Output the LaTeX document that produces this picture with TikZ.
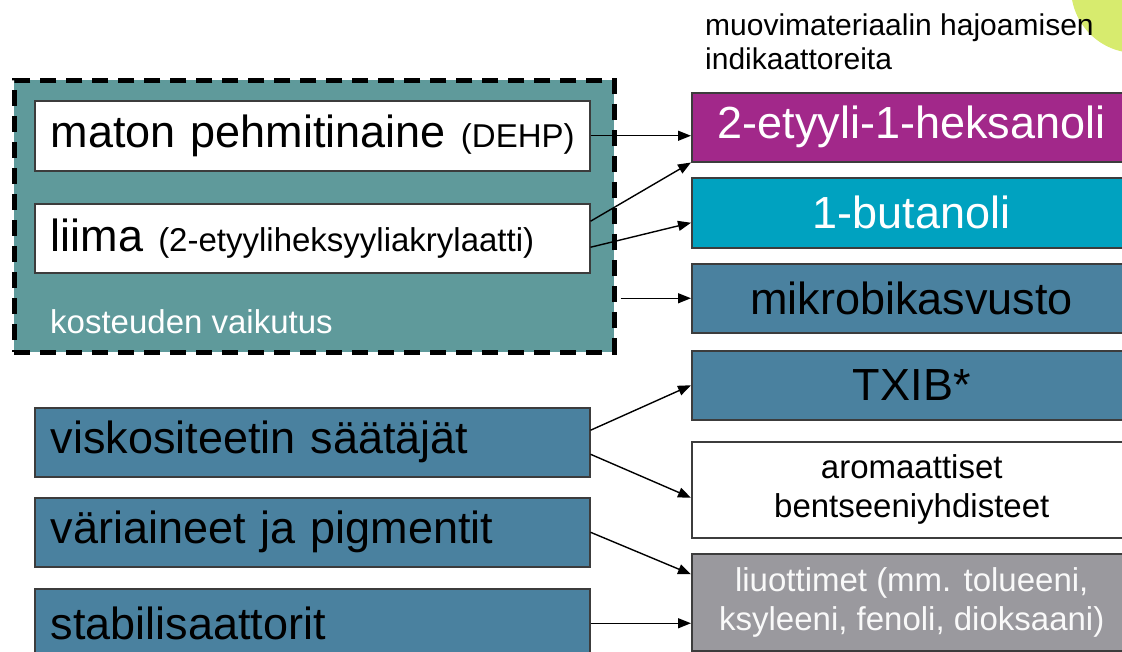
\documentclass[tikz,border=0pt]{standalone}
\usepackage{fontspec}
\setmainfont{Liberation Sans}
\usetikzlibrary{positioning, fit, calc, arrows.meta, backgrounds}
\definecolor{mossteal}{HTML}{5F9A9B}
\definecolor{steelbox}{HTML}{4A819F}
\definecolor{plumbox}{HTML}{A2288A}
\definecolor{cyanbox}{HTML}{00A2C0}
\definecolor{greybox}{HTML}{9A999E}
\definecolor{limeblob}{HTML}{D7EB6E}
\definecolor{edgegray}{HTML}{3C3C3C}
\newcommand{\subnote}[1]{{\fontsize{33}{39}\selectfont #1}}
\tikzset{
	bigtext/.style={font=\fontsize{45}{50}\selectfont},
	smalltext/.style={font=\fontsize{33}{39}\selectfont}
}
\tikzset{
	leftbox/.style={draw=edgegray, line width=1.5pt, anchor=north west, minimum height=69pt,
			text width=535pt, inner xsep=10pt, inner ysep=0pt, align=left, bigtext},
	rightbox/.style={draw=edgegray, line width=1.5pt, anchor=north west, minimum width=440pt,
			inner sep=0pt, align=center}
}
\tikzset{
	moistbox/.style={fill=mossteal, draw=black, line width=4.5pt, dash pattern=on 16pt off 10pt,
			anchor=north west, minimum width=600pt, minimum height=272pt, inner sep=0pt}
}
\tikzset{
	linkarrow/.style={line width=1.4pt, -{Triangle[length=13pt,width=10pt]}}
}

\begin{document}
\begin{tikzpicture}[x=1pt, y=-1pt]

			\path[use as bounding box] (0,0) rectangle (1122,651);
			\clip (0,0) rectangle (1122,651);

			\fill[limeblob] (1136,-12) circle (65pt);

			\node[smalltext, font=\fontsize{30}{34}\selectfont, anchor=north west, inner sep=0pt, align=left] (head) at (705,14)
				{muovimateriaalin hajoamisen\\indikaattoreita};

			\begin{scope}
				\node[moistbox] (moist) at (12,78) {};
				\node[leftbox, fill=white, minimum height=70pt] (dehp) at (34,100) {\hspace*{6pt}maton pehmitinaine \subnote{(DEHP)}};
				\node[leftbox, fill=white] (liima) at (34,203) {\hspace*{6pt}liima \subnote{(2-etyyliheksyyliakrylaatti)}};
				\node[smalltext, text=white, anchor=base west, inner sep=0pt] (moistlabel) at (50,333) {kosteuden vaikutus};
			\end{scope}

			\begin{scope}
				\node[leftbox, fill=steelbox] (visk) at (34,407) {\hspace*{6pt}viskositeetin säätäjät};
				\node[leftbox, fill=steelbox] (vari) at (34,497) {\hspace*{6pt}väriaineet ja pigmentit};
				\node[leftbox, fill=steelbox] (stab) at (34,588) {\hspace*{6pt}stabilisaattorit};
			\end{scope}

			\begin{scope}
				\node[rightbox, bigtext, fill=plumbox, text=white, minimum height=69pt] (heks) at (691,92) {2-etyyli-1-heksanoli};
				\node[rightbox, bigtext, fill=cyanbox, text=white, minimum height=70pt] (buta) at (691,177) {1-butanoli};
				\node[rightbox, bigtext, fill=steelbox, minimum height=69pt] (mikro) at (691,263) {mikrobikasvusto};
				\node[rightbox, bigtext, fill=steelbox, minimum height=69pt] (txib) at (691,350) {TXIB*};
				\node[rightbox, smalltext, fill=white, minimum height=96pt] (arom) at (691,441) {aromaattiset\\bentseeniyhdisteet};
				\node[rightbox, smalltext, fill=greybox, text=white!95!gray, minimum height=97pt] (liuot) at (691,553)
					{liuottimet (mm. tolueeni,\\ksyleeni, fenoli, dioksaani)};
			\end{scope}

			\begin{scope}
				\draw[linkarrow] (dehp.east) -- (dehp.east -| heks.west);
				\draw[linkarrow] ($(liima.east)+(0,-17)$) -- (heks.south west);
				\draw[linkarrow] ($(liima.east)+(0,9)$) -- ($(buta.west)+(0,10)$);
				\draw[linkarrow, shorten <=4pt] (moist.east |- mikro.west) -- (mikro.west);
				\draw[linkarrow] ($(visk.east)+(0,-12)$) -- (txib.west);
				\draw[linkarrow] ($(visk.east)+(0,12)$) -- ($(arom.west)+(0,8)$);
				\draw[linkarrow] (vari.east) -- ($(liuot.west)+(0,-28)$);
				\draw[linkarrow] (stab.east) -- (stab.east -| liuot.west);
			\end{scope}

		\end{tikzpicture}
\end{document}
